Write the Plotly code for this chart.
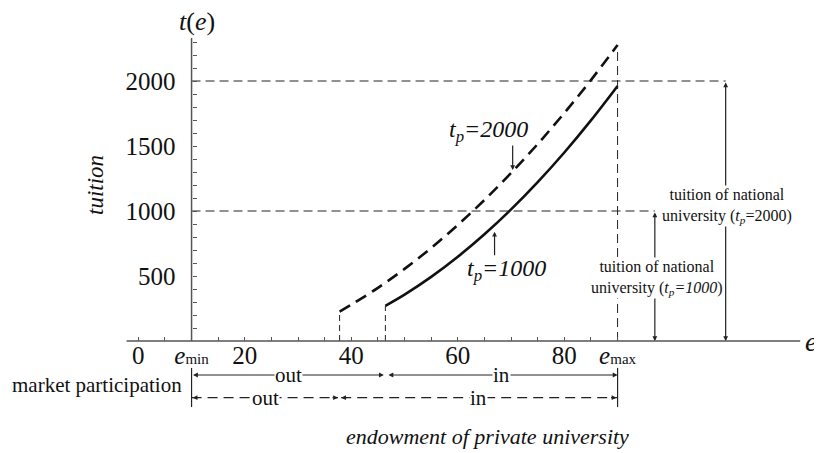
import plotly.graph_objects as go

# ---------------- data ----------------
e_tp1000 = [46.4, 50, 55, 60, 65, 70, 75, 80, 85, 90]
t_tp1000 = [271, 357, 493, 648, 821, 1012, 1222, 1450, 1697, 1962]
e_tp2000 = [37.8, 40, 45, 50, 55, 60, 65, 70, 75, 80, 85, 90]
t_tp2000 = [226, 279, 409, 555, 716, 893, 1085, 1292, 1515, 1754, 2007, 2277]
national_tuition = [1000, 2000]
e_min, e_max = 10, 90
e_entry_1000, e_entry_2000 = 46.4, 37.8
arrow_e_1000, arrow_e_2000 = 97, 110.3
x_tick_vals = [0, 10, 20, 40, 60, 80, 90]
x_tick_text = ["0", "<i>e</i><span style='font-size:15px'>min</span>", "20", "40", "60", "80",
               "<i>e</i><span style='font-size:15px'>max</span>"]
x_minor_vals = [5, 15, 25, 30, 35, 45, 50, 55, 65, 70, 75, 85]
y_tick_vals = [500, 1000, 1500, 2000]
y_minor_vals = [100, 200, 300, 400, 600, 700, 800, 900, 1100, 1200, 1300, 1400,
                1600, 1700, 1800, 1900, 2100, 2200, 2300]

FONT = "Liberation Serif, Times New Roman, serif"
INK = "#111111"
AX = "#555555"
W, H = 814, 445
X_RANGE = [-24.47, 128.39]
Y_RANGE = [-861.5, 2561.5]
AXIS_TOP = 2331
AXIS_LEFT, AXIS_RIGHT = -2.2, 124.3
ROW1, ROW2 = -261.5, -436
BAR_TOP, BAR_BOT = -207, -508

fig = go.Figure()

# curves
fig.add_trace(go.Scatter(x=e_tp2000, y=t_tp2000, mode="lines", line_shape="spline",
                         line=dict(color=INK, width=2.6, dash="12px,7px"), hoverinfo="skip"))
fig.add_trace(go.Scatter(x=e_tp1000, y=t_tp1000, mode="lines", line_shape="spline",
                         line=dict(color=INK, width=2.6), hoverinfo="skip"))

thin_dash = dict(color="#222222", width=1, dash="9px,5px")
# horizontal reference lines
fig.add_trace(go.Scatter(x=[e_min, arrow_e_2000], y=[national_tuition[1]] * 2, mode="lines",
                         line=thin_dash, hoverinfo="skip"))
fig.add_trace(go.Scatter(x=[e_min, arrow_e_1000], y=[national_tuition[0]] * 2, mode="lines",
                         line=thin_dash, hoverinfo="skip"))
# vertical reference lines
fig.add_trace(go.Scatter(x=[e_max, e_max], y=[0, t_tp2000[-1]], mode="lines",
                         line=thin_dash, hoverinfo="skip"))
fig.add_trace(go.Scatter(x=[e_entry_2000] * 2, y=[0, t_tp2000[0]], mode="lines",
                         line=dict(color="#222222", width=1, dash="6px,4px"), hoverinfo="skip"))
fig.add_trace(go.Scatter(x=[e_entry_1000] * 2, y=[0, t_tp1000[0]], mode="lines",
                         line=dict(color="#222222", width=1, dash="6px,4px"), hoverinfo="skip"))

# market participation row 2 (dashed)
row_dash = dict(color="#222222", width=1.2, dash="10px,6px")
fig.add_trace(go.Scatter(x=[e_min, e_entry_2000 - 0.3], y=[ROW2, ROW2], mode="lines",
                         line=row_dash, hoverinfo="skip"))
fig.add_trace(go.Scatter(x=[e_entry_2000 + 0.3, e_max], y=[ROW2, ROW2], mode="lines",
                         line=row_dash, hoverinfo="skip"))
# bars at e_min, e_max
for ev in [e_min, e_max]:
    fig.add_trace(go.Scatter(x=[ev, ev], y=[BAR_TOP, BAR_BOT], mode="lines",
                             line=dict(color="#222222", width=1.2), hoverinfo="skip"))

# axes lines
shapes = [
    dict(type="line", xref="x", yref="y", x0=AXIS_LEFT, x1=AXIS_RIGHT, y0=0, y1=0,
         line=dict(color=AX, width=1.5)),
    dict(type="line", xref="x", yref="y", x0=e_min, x1=e_min, y0=0, y1=AXIS_TOP,
         line=dict(color=AX, width=1.5)),
]

ann = []
def txt(x, y, text, size, **kw):
    d = dict(x=x, y=y, xref="x", yref="y", text=text, showarrow=False,
             font=dict(family=FONT, size=size, color=INK))
    d.update(kw)
    ann.append(d)

def arrow(x, y, ax, ay, both=False, axis_ref=True, **kw):
    d = dict(x=x, y=y, ax=ax, ay=ay, xref="x", yref="y", text="", showarrow=True,
             arrowhead=2, arrowsize=0.8, arrowwidth=1.2, arrowcolor="#222222",
             arrowside="end+start" if both else "end")
    if axis_ref:
        d.update(axref="x", ayref="y")
    d.update(kw)
    ann.append(d)

# axis titles
txt(11.0, 2454, "<i>t</i>(<i>e</i>)", 26)
txt(-8.13, 1200, "<i>tuition</i>", 23, textangle=-90)
txt(126.3, 0, "<i>e</i>", 28)
txt(65.5, -738, "<i>endowment of private university</i>", 22)
txt(-7.7, -338, "market participation", 21)

# row 1 solid double arrows
arrow(e_entry_1000 - 0.3, ROW1, e_min, ROW1, both=True)
arrow(e_max, ROW1, e_entry_1000 + 0.3, ROW1, both=True)
txt((e_min + e_entry_1000) / 2, ROW1, "out", 21, bgcolor="white", borderpad=0)
txt((e_entry_1000 + e_max) / 2, ROW1, "in", 21, bgcolor="white", borderpad=0)
# row 2 dashed arrowheads
arrow(e_min + 0.2, ROW2, 7, 0, axis_ref=False)
arrow(e_entry_2000 - 0.3, ROW2, -7, 0, axis_ref=False)
arrow(e_entry_2000 + 0.3, ROW2, 7, 0, axis_ref=False)
arrow(e_max - 0.2, ROW2, -7, 0, axis_ref=False)
txt((e_min + e_entry_2000) / 2, ROW2, "out", 21, bgcolor="white", borderpad=0)
txt((e_entry_2000 + e_max) / 2, ROW2, "in", 21, bgcolor="white", borderpad=0)

# right-hand vertical double arrows
arrow(arrow_e_1000, 0, arrow_e_1000, national_tuition[0], both=True)
arrow(arrow_e_2000, 0, arrow_e_2000, national_tuition[1], both=True)
txt(97.4, 481, "tuition of national<br>university (<i>t<sub>p</sub>=1000</i>)", 16,
    bgcolor="white", borderpad=0)
txt(110.5, 1042, "tuition of national<br>university (<i>t<sub>p</sub></i>=2000)", 16,
    bgcolor="white", borderpad=0)

# curve labels
txt(65.8, 1615, "<i>t<sub>p</sub>=2000</i>", 24)
arrow(70.3, 1315, 0, -26, axis_ref=False)
txt(69.2, 546, "<i>t<sub>p</sub>=1000</i>", 24)
arrow(66.9, 841, 0, 25, axis_ref=False)

fig.update_layout(
    width=W, height=H, margin=dict(l=0, r=0, t=0, b=0),
    paper_bgcolor="white", plot_bgcolor="white", showlegend=False,
    shapes=shapes, annotations=ann,
    font=dict(family=FONT, color=INK),
    xaxis=dict(range=X_RANGE, anchor="free", position=1 - 333 / H, showgrid=False,
               zeroline=False, showline=False, ticks="inside", ticklen=4, tickwidth=1,
               tickcolor=AX, tickvals=x_tick_vals, ticktext=x_tick_text,
               ticklabelstandoff=-3,
               tickfont=dict(family=FONT, size=25, color=INK), automargin=False,
               minor=dict(tickvals=x_minor_vals, ticks="inside", ticklen=4, tickcolor=AX,
                          showgrid=False)),
    yaxis=dict(range=Y_RANGE, anchor="free", position=183.55 / W, showgrid=False,
               zeroline=False, showline=False, ticks="inside", ticklen=4, tickwidth=1,
               tickcolor=AX, tickvals=y_tick_vals, ticklabelstandoff=16,
               tickfont=dict(family=FONT, size=25, color=INK), automargin=False,
               minor=dict(tickvals=y_minor_vals, ticks="inside", ticklen=4, tickcolor=AX,
                          showgrid=False)),
)

fig.write_html("out.html")
